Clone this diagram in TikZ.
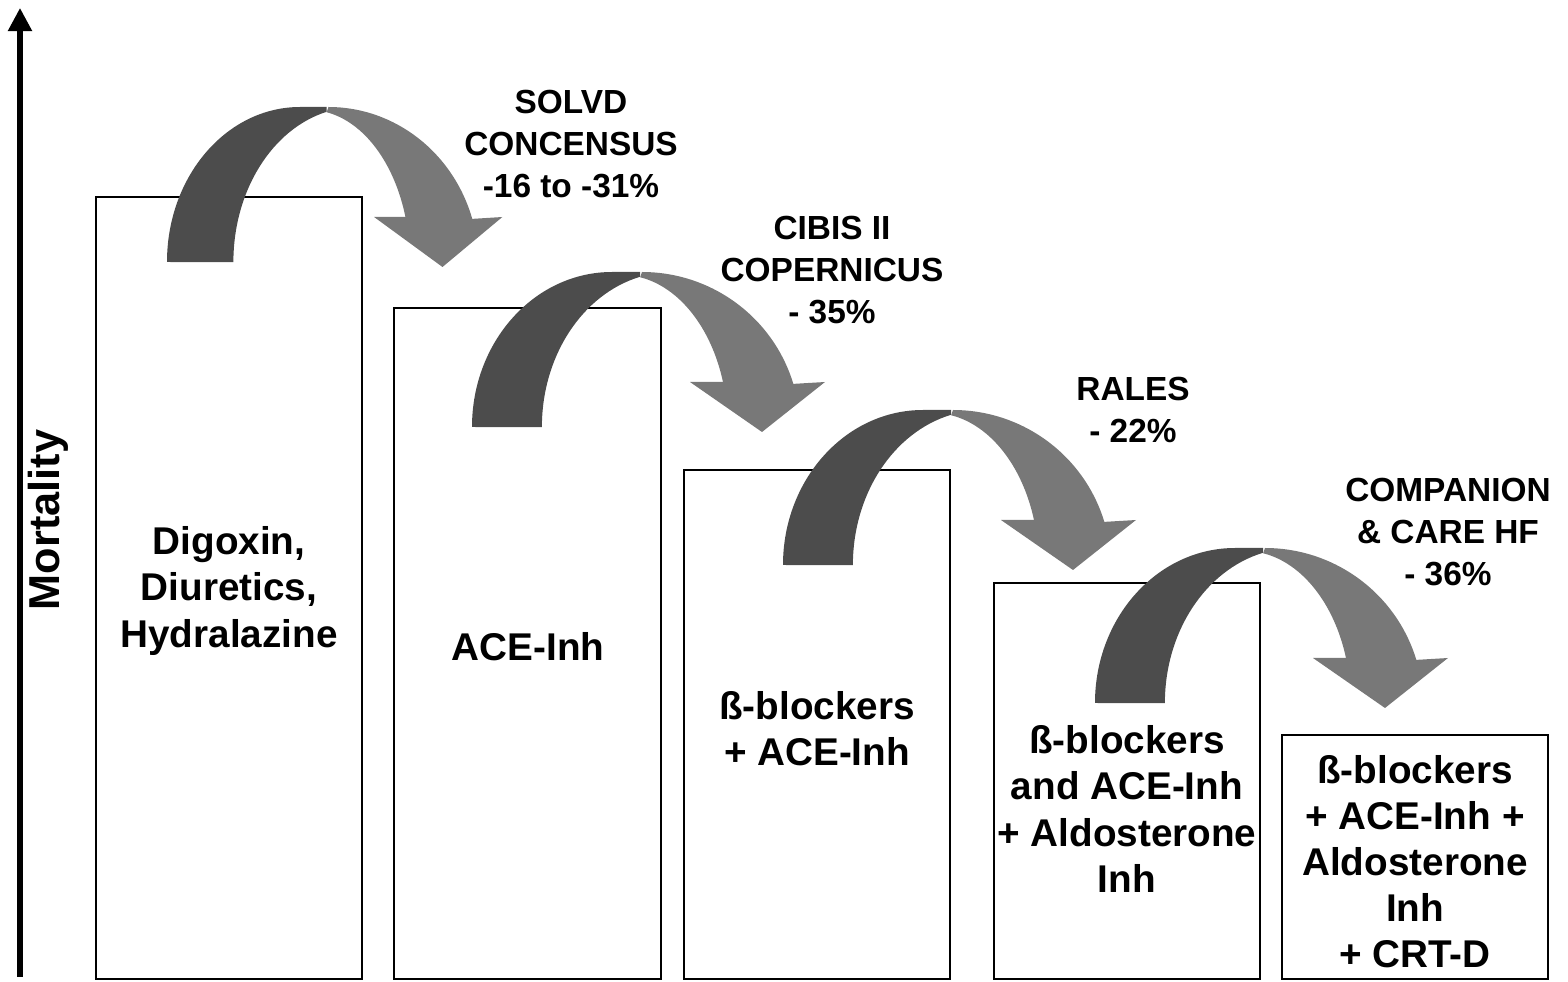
\documentclass[tikz,border=0pt]{standalone}
\usepackage{fontspec}
\setmainfont{Liberation Sans}
\usetikzlibrary{arrows.meta}
\newcommand\curvedarrow[3]{%
  \begin{scope}[shift={(#1,#2)}, yscale=-1, xscale=#3]
    \fill[darkband] (0,0) arc[start angle=180,end angle=90,x radius=140,y radius=155]
      -- (168,155) -- (168,150.2)
      arc[start angle=104.2,end angle=180,x radius=130,y radius=155] -- cycle;
    \fill[lightband] (170,155) arc[start angle=90,end angle=16.7,x radius=158,y radius=157]
      -- (353,45) -- (290,-5) -- (218,45) -- (251,45)
      arc[start angle=17.2,end angle=80,x radius=106,y radius=152] -- cycle;
  \end{scope}}
\begin{document}
\begin{tikzpicture}[x=0.01cm,y=-0.01cm,
  box/.style={draw, line width=0.5pt},
  darkband/.style={fill=black!70},
  lightband/.style={fill=black!53},
  lbl/.style={font=\bfseries\fontsize{9.5}{12}\selectfont, align=center, inner sep=0pt},
  btxt/.style={font=\bfseries\fontsize{11}{13.1}\selectfont, align=center, inner sep=0pt},
]
\useasboundingbox (0,0) rectangle (1568,982);
% axis
\coordinate (axb) at (20,977);
\coordinate (axt) at (20,8);
\draw[line width=1.45pt, -{Triangle[width=0.23cm,length=0.23cm]}] (axb) -- (axt);
\node[rotate=90, font=\bfseries\fontsize{12.3}{14}\selectfont, inner sep=0pt] (mort) at (48,520) {Mortality};
% boxes
\draw[box] (96,197) rectangle (362,979);
\draw[box] (394,308) rectangle (661,979);
\draw[box] (684,470) rectangle (950,979);
\draw[box] (994,583) rectangle (1260,979);
\draw[box] (1282,735) rectangle (1548,979);
% box texts
\node[btxt] (t1) at (229,591) {Digoxin,\\Diuretics,\\Hydralazine};
\node[btxt] (t2) at (528,647) {ACE-Inh};
\node[btxt] (t3) at (817,729) {ß-blockers\\+ ACE-Inh};
\node[btxt] (t4) at (1127,809) {ß-blockers\\and ACE-Inh\\+ Aldosterone\\Inh};
\node[btxt] (t5) at (1415,862) {ß-blockers\\+ ACE-Inh +\\Aldosterone\\Inh\\+ CRT-D};
% curved arrows
\curvedarrow{167}{262}{0.95}
\curvedarrow{472}{427}{1}
\curvedarrow{783}{565}{1}
\curvedarrow{1095}{703}{1}
% labels
\node[lbl] (l1) at (571,144) {SOLVD\\CONCENSUS\\-16 to -31\%};
\node[lbl] (l2) at (832,270) {CIBIS II\\COPERNICUS\\- 35\%};
\node[lbl] (l3) at (1133,410) {RALES\\- 22\%};
\node[lbl] (l4) at (1448,532) {COMPANION\\\& CARE HF\\- 36\%};
\end{tikzpicture}
\end{document}
